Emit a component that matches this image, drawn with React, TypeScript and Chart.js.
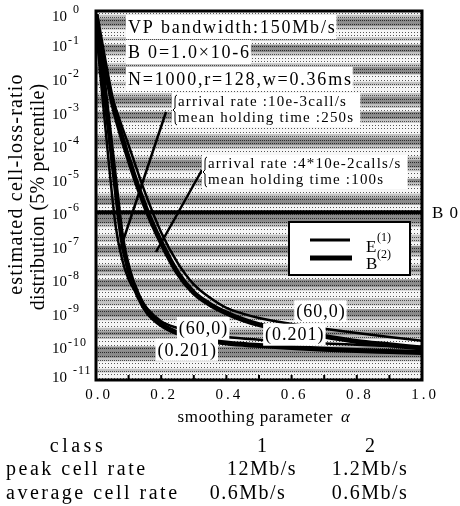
import React, { useEffect, useRef } from 'react';
import { Chart, registerables } from 'chart.js';

Chart.register(...registerables);

// ---- data (exponents of the cell-loss ratio, i.e. value = 10^exp) ----
const ALPHA_STEEP = [0, 0.02, 0.04, 0.06, 0.08, 0.1, 0.13, 0.16, 0.2, 0.25, 0.3, 0.4, 0.5, 0.6, 0.7, 0.8, 0.9, 1.0];
const E1_STEEP_EXP = [-0.5, -2.6, -4.6, -6.4, -7.4, -8.0, -8.5, -8.9, -9.25, -9.45, -9.58, -9.72, -9.8, -9.86, -9.91, -9.95, -9.99, -10.02];
const B2_STEEP_EXP = [-0.1, -1.8, -3.5, -5.2, -6.8, -7.7, -8.5, -9.0, -9.35, -9.6, -9.75, -9.9, -9.97, -10.03, -10.08, -10.12, -10.15, -10.18];

const ALPHA_SHALLOW = [0, 0.02, 0.05, 0.1, 0.15, 0.2, 0.25, 0.3, 0.35, 0.4, 0.45, 0.5, 0.6, 0.7, 0.8, 0.9, 1.0];
const E1_SHALLOW_EXP = [-0.3, -1.6, -2.6, -4.0, -5.4, -6.6, -7.5, -8.15, -8.55, -8.85, -9.02, -9.15, -9.33, -9.47, -9.6, -9.72, -9.83];
const B2_SHALLOW_EXP = [-0.1, -1.2, -2.7, -4.4, -5.8, -6.9, -7.8, -8.4, -8.75, -9.0, -9.2, -9.35, -9.55, -9.7, -9.85, -9.95, -10.05];

const B0_EXP = -6;

const X_TICKS = [0, 0.2, 0.4, 0.6, 0.8, 1.0];
const X_TICK_LABELS = ['0.0', '0.2', '0.4', '0.6', '0.8', '1.0'];
const X_MINOR_TICKS = [0.1, 0.2, 0.3, 0.4, 0.5, 0.6, 0.7, 0.8, 0.9];
const Y_EXPONENTS = [0, -1, -2, -3, -4, -5, -6, -7, -8, -9, -10, -11];
const Y_EXP_LABELS = ['0', '-1', '-2', '-3', '-4', '-5', '-6', '-7', '-8', '-9', '-10', '-11'];

const INFO_LINES = ['VP bandwidth:150Mb/s', 'B 0=1.0×10-6', 'N=1000,r=128,w=0.36ms'];
const NOTE1 = ['arrival rate :10e-3call/s', 'mean holding time :250s'];
const NOTE2 = ['arrival rate :4*10e-2calls/s', 'mean holding time :100s'];
const LABEL_60 = '(60,0)';
const LABEL_201 = '(0.201)';
const TABLE_ROWS = [
  ['class', '1', '2'],
  ['peak cell rate', '12Mb/s', '1.2Mb/s'],
  ['average cell rate', '0.6Mb/s', '0.6Mb/s'],
];

const SERIF = "'Liberation Serif', 'Times New Roman', serif";

// row types per decade for the halftone background (0 light, 1 medium, 2 dark)
const BAND_PATTERNS = [
  [0, 1, 2, 2, 1, 0, 0, 1, 0],
  [2, 2, 1, 0, 0, 1, 2, 2, 0],
  [0, 1, 0, 0, 1, 2, 2, 1, 0],
  [2, 2, 1, 0, 0, 0, 1, 2, 2],
  [1, 0, 0, 1, 2, 2, 1, 0, 0],
  [2, 1, 0, 0, 1, 2, 2, 0, 0],
  [2, 2, 2, 1, 0, 0, 1, 1, 0],
  [2, 2, 1, 0, 0, 1, 2, 1, 0],
  [2, 2, 1, 0, 0, 1, 1, 0, 2],
  [2, 1, 0, 0, 1, 2, 1, 0, 0],
  [2, 2, 2, 1, 0, 0, 1, 0, 0],
];

const pts = (xs: number[], es: number[]) => xs.map((x, i) => ({ x, y: Math.pow(10, es[i]) }));

function txt(ctx: CanvasRenderingContext2D, s: string, x: number, y: number, size: number, opts: any = {}) {
  ctx.save();
  ctx.font = `${opts.italic ? 'italic ' : ''}${size}px ${SERIF}`;
  (ctx as any).letterSpacing = (opts.ls || 0) + 'px';
  ctx.textAlign = opts.align || 'left';
  ctx.textBaseline = opts.baseline || 'middle';
  ctx.fillStyle = '#000';
  ctx.fillText(s, x, y);
  ctx.restore();
}
function tw(ctx: CanvasRenderingContext2D, s: string, size: number, ls = 0) {
  ctx.save();
  ctx.font = `${size}px ${SERIF}`;
  (ctx as any).letterSpacing = ls + 'px';
  const w = ctx.measureText(s).width;
  ctx.restore();
  return w;
}

const bgPlugin = {
  id: 'bgStripes',
  beforeDatasetsDraw(chart: any) {
    const { ctx, chartArea: a, scales } = chart;
    const ys = scales.y;
    ctx.save();
    ctx.beginPath();
    ctx.rect(a.left, a.top, a.right - a.left, a.bottom - a.top);
    ctx.clip();
    ctx.fillStyle = '#eeeeee';
    ctx.fillRect(a.left, a.top, a.right - a.left, a.bottom - a.top);
    for (let d = 0; d < 11; d++) {
      const y0 = ys.getPixelForValue(Math.pow(10, -d));
      const y1 = ys.getPixelForValue(Math.pow(10, -(d + 1)));
      const pat = BAND_PATTERNS[d];
      const h = (y1 - y0) / pat.length;
      pat.forEach((t, r) => {
        const yy = y0 + r * h;
        ctx.fillStyle = t === 2 ? '#8a8a8a' : t === 1 ? '#c2c2c2' : '#f6f6f6';
        ctx.fillRect(a.left, yy, a.right - a.left, h + 0.5);
        ctx.strokeStyle = t === 2 ? '#2a2a2a' : t === 1 ? '#4a4a4a' : '#555555';
        ctx.lineWidth = 1;
        ctx.setLineDash(t === 0 ? [1, 2] : [1, 1]);
        ctx.beginPath();
        ctx.moveTo(a.left, Math.round(yy + h / 2) + 0.5);
        ctx.lineTo(a.right, Math.round(yy + h / 2) + 0.5);
        ctx.stroke();
      });
    }
    ctx.restore();
  },
};

const overlayPlugin = {
  id: 'overlay',
  afterDatasetsDraw(chart: any) {
    const { ctx, chartArea: a, scales } = chart;
    const xs = scales.x, ys = scales.y;
    ctx.save();

    // B0 line
    const yB0 = ys.getPixelForValue(Math.pow(10, B0_EXP));
    ctx.strokeStyle = '#000';
    ctx.lineWidth = 4;
    ctx.beginPath();
    ctx.moveTo(a.left, yB0);
    ctx.lineTo(a.right, yB0);
    ctx.stroke();
    txt(ctx, 'B 0', a.right + 10, yB0 + 1, 17, { ls: 1 });

    // pointer lines from the notes
    ctx.lineWidth = 2.5;
    ctx.beginPath();
    ctx.moveTo(166, 112);
    ctx.lineTo(120, 250);
    ctx.moveTo(202, 170);
    ctx.lineTo(156, 252);
    ctx.stroke();

    // info text block
    const infoY = [27, 52, 79];
    INFO_LINES.forEach((s, i) => {
      const w = tw(ctx, s, 18, 1.8);
      ctx.fillStyle = '#fff';
      ctx.fillRect(126, infoY[i] - 12, w + 2, 24);
      txt(ctx, s, 128, infoY[i] + 1, 18, { ls: 1.8 });
    });

    // notes with braces
    const note = (lines: string[], x: number, yTop: number) => {
      const w = Math.max(...lines.map((s) => tw(ctx, s, 15, 1.2)));
      ctx.fillStyle = '#fff';
      ctx.fillRect(x - 6, yTop, w + 12, 34);
      ctx.strokeStyle = '#000';
      ctx.lineWidth = 1;
      ctx.setLineDash([]);
      ctx.beginPath();
      ctx.moveTo(x - 1, yTop + 2);
      ctx.quadraticCurveTo(x - 3, yTop + 2, x - 3, yTop + 6);
      ctx.lineTo(x - 3, yTop + 15);
      ctx.lineTo(x - 5, yTop + 17);
      ctx.lineTo(x - 3, yTop + 19);
      ctx.lineTo(x - 3, yTop + 28);
      ctx.quadraticCurveTo(x - 3, yTop + 32, x - 1, yTop + 32);
      ctx.stroke();
      txt(ctx, lines[0], x, yTop + 9, 15, { ls: 1.2 });
      txt(ctx, lines[1], x, yTop + 25, 15, { ls: 1.2 });
    };
    note(NOTE1, 178, 93);
    note(NOTE2, 208, 155);

    // curve labels with white backgrounds
    const label = (s: string, ax: number, ey: number) => {
      const x = xs.getPixelForValue(ax);
      const y = ys.getPixelForValue(Math.pow(10, ey));
      const w = tw(ctx, s, 18, 1);
      ctx.fillStyle = '#fff';
      ctx.fillRect(x - w / 2 - 2, y - 11, w + 3, 22);
      txt(ctx, s, x, y + 1, 18, { ls: 1, align: 'center' });
    };
    label(LABEL_60, 0.33, -9.45);
    label(LABEL_60, 0.69, -8.95);
    label(LABEL_201, 0.28, -10.1);
    label(LABEL_201, 0.61, -9.65);

    // legend box
    ctx.fillStyle = '#fff';
    ctx.fillRect(289, 222, 121, 53);
    ctx.strokeStyle = '#000';
    ctx.lineWidth = 2;
    ctx.strokeRect(289, 222, 121, 53);
    ctx.lineWidth = 3;
    ctx.beginPath();
    ctx.moveTo(310, 240);
    ctx.lineTo(350, 240);
    ctx.stroke();
    ctx.lineWidth = 5;
    ctx.beginPath();
    ctx.moveTo(310, 258);
    ctx.lineTo(352, 258);
    ctx.stroke();
    txt(ctx, 'E', 366, 252, 17, { baseline: 'alphabetic' });
    txt(ctx, '(1)', 377, 241, 12, { baseline: 'alphabetic' });
    txt(ctx, 'B', 366, 269, 17, { baseline: 'alphabetic' });
    txt(ctx, '(2)', 377, 258, 12, { baseline: 'alphabetic' });

    // frame
    ctx.strokeStyle = '#000';
    ctx.lineWidth = 3;
    ctx.strokeRect(a.left, a.top, a.right - a.left, a.bottom - a.top);
    ctx.lineWidth = 2;
    ctx.beginPath();
    X_MINOR_TICKS.forEach((v) => {
      const x = xs.getPixelForValue(v);
      ctx.moveTo(x, a.bottom);
      ctx.lineTo(x, a.bottom - 5);
    });
    ctx.stroke();
    ctx.restore();
  },
  afterDraw(chart: any) {
    const { ctx, chartArea: a, scales } = chart;
    const xs = scales.x, ys = scales.y;

    // y tick labels 10^n
    Y_EXPONENTS.forEach((e, i) => {
      let y = ys.getPixelForValue(Math.pow(10, e));
      y = Math.min(Math.max(y, a.top + 3), a.bottom - 5);
      txt(ctx, '10', 67, y + 3, 15, { align: 'right' });
      const gap = e === 0 || e === -11 ? 6 : 1;
      txt(ctx, Y_EXP_LABELS[i], 67 + gap, y - 4, 12, { ls: 1 });
    });

    // x tick labels
    X_TICKS.forEach((v, i) => {
      const x = xs.getPixelForValue(v);
      txt(ctx, X_TICK_LABELS[i], x + 3, a.bottom + 15, 15, { align: 'center', ls: 3 });
    });

    // axis titles
    txt(ctx, 'smoothing parameter', 333, a.bottom + 38, 17, { align: 'right', ls: 0.6 });
    txt(ctx, 'α', 341, a.bottom + 38, 17, { italic: true });

    ctx.save();
    ctx.translate(17, 184);
    ctx.rotate(-Math.PI / 2);
    txt(ctx, 'estimated cell-loss-ratio', 0, 0, 20, { align: 'center', ls: 1.2 });
    ctx.restore();
    ctx.save();
    ctx.translate(39, 197);
    ctx.rotate(-Math.PI / 2);
    txt(ctx, 'distribution (5% percentile)', 0, 0, 20, { align: 'center', ls: 0.2 });
    ctx.restore();

    // class table
    const rowY = [447, 470, 494];
    TABLE_ROWS.forEach((row, r) => {
      if (r === 0) txt(ctx, row[0], 78, rowY[r], 20, { align: 'center', ls: 3.5 });
      else txt(ctx, row[0], 6, rowY[r], 20, { ls: 2.5 });
      txt(ctx, row[1], r === 2 ? 248 : 262, rowY[r], 20, { align: 'center', ls: r === 0 ? 0 : 1.5 });
      txt(ctx, row[2], 370, rowY[r], 20, { align: 'center', ls: r === 0 ? 0 : 1.5 });
    });
  },
};

export default function App() {
  const ref = useRef<HTMLCanvasElement>(null);
  useEffect(() => {
    document.body.style.margin = '0';
    const canvas = ref.current!;
    const chart = new Chart(canvas, {
      type: 'line',
      data: {
        datasets: [
          { label: 'E1 steep', data: pts(ALPHA_STEEP, E1_STEEP_EXP), borderColor: '#000', borderWidth: 2.5 },
          { label: 'B2 steep', data: pts(ALPHA_STEEP, B2_STEEP_EXP), borderColor: '#000', borderWidth: 5 },
          { label: 'E1 shallow', data: pts(ALPHA_SHALLOW, E1_SHALLOW_EXP), borderColor: '#000', borderWidth: 2.5 },
          { label: 'B2 shallow', data: pts(ALPHA_SHALLOW, B2_SHALLOW_EXP), borderColor: '#000', borderWidth: 5 },
        ],
      },
      options: {
        animation: false,
        responsive: false,
        devicePixelRatio: 1,
        parsing: false as any,
        layout: { padding: { left: 96, right: 38, top: 11, bottom: 126 } },
        elements: {
          point: { radius: 0 },
          line: { cubicInterpolationMode: 'monotone', fill: false },
        },
        plugins: { legend: { display: false }, tooltip: { enabled: false } },
        scales: {
          x: { type: 'linear', min: 0, max: 1, display: false },
          y: { type: 'logarithmic', min: 1e-11, max: 1, display: false },
        },
      },
      plugins: [bgPlugin, overlayPlugin],
    });
    return () => chart.destroy();
  }, []);
  return (
    <div style={{ width: 460, height: 506 }}>
      <canvas ref={ref} width={460} height={506} style={{ display: 'block' }} />
    </div>
  );
}
